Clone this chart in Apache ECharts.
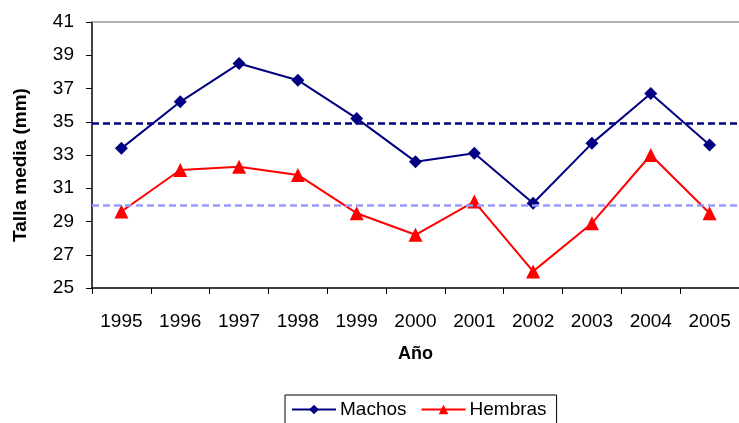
<!DOCTYPE html>
<html>
<head>
<meta charset="utf-8">
<script src="https://cdn.jsdelivr.net/npm/echarts@6/dist/echarts.min.js"></script>
<style>
  html, body { margin: 0; padding: 0; background: #fff; }
  #main { width: 739px; height: 423px; }
</style>
</head>
<body>
<div id="main"></div>
<script>
// datos
const years = ["1995", "1996", "1997", "1998", "1999", "2000", "2001", "2002", "2003", "2004", "2005"];
const machos = [33.4, 36.2, 38.5, 37.5, 35.2, 32.6, 33.1, 30.1, 33.7, 36.7, 33.6];
const hembras = [29.6, 32.1, 32.3, 31.8, 29.5, 28.2, 30.2, 26.0, 28.9, 33.0, 29.5];
// medias (lineas discontinuas)
const mediaMachos = 34.9;
const mediaHembras = 30.0;

const font = "Liberation Sans, Arial, sans-serif";

let myChart = echarts.init(document.getElementById("main"));
let option = {
  animation: false,
  textStyle: { fontFamily: font },
  grid: {
    left: 92,
    top: 22,
    width: 652,
    height: 266
  },
  legend: {
    data: ["Machos", "Hembras"],
    left: 285,
    top: 395,
    borderColor: "#000",
    borderWidth: 1,
    borderRadius: 0,
    padding: [5, 10, 10, 6],
    itemGap: 14,
    itemWidth: 44,
    itemHeight: 12,
    textStyle: { fontSize: 19, color: "#000", fontFamily: font, padding: [0, 0, 0, -1] }
  },
  xAxis: [
    {
      type: "category",
      data: years,
      boundaryGap: true,
      name: "Año",
      nameLocation: "middle",
      nameGap: 57,
      nameTextStyle: { fontSize: 18, fontWeight: "bold", color: "#000" },
      axisLine: { lineStyle: { color: "#000", width: 1.5 } },
      axisTick: { show: true, length: 6, lineStyle: { color: "#000" } },
      axisLabel: { fontSize: 19, color: "#000", margin: 24 }
    },
    {
      type: "category",
      data: years,
      position: "top",
      axisLine: { show: true, lineStyle: { color: "#999", width: 1.5 } },
      axisTick: { show: false },
      axisLabel: { show: false }
    }
  ],
  yAxis: {
    type: "value",
    min: 25,
    max: 41,
    interval: 2,
    name: "Talla media (mm)",
    nameLocation: "middle",
    nameGap: 62,
    nameTextStyle: { fontSize: 19, fontWeight: "bold", color: "#000", padding: [0, 20, 0, 0] },
    axisLine: { show: true, lineStyle: { color: "#000", width: 1.5 } },
    axisTick: { show: true, length: 6, lineStyle: { color: "#000" } },
    axisLabel: { fontSize: 19, color: "#000", margin: 18 },
    splitLine: { show: false }
  },
  series: [
    {
      name: "Machos",
      type: "line",
      data: machos,
      symbol: "diamond",
      symbolSize: 13,
      lineStyle: { color: "#000080", width: 2 },
      itemStyle: { color: "#000080" },
      markLine: {
        silent: true,
        symbol: "none",
        label: { show: false },
        lineStyle: { color: "#000080", type: [7, 4], width: 2.5 },
        data: [{ yAxis: mediaMachos }]
      }
    },
    {
      name: "Hembras",
      type: "line",
      data: hembras,
      symbol: "triangle",
      symbolSize: 14,
      lineStyle: { color: "#ff0000", width: 2 },
      itemStyle: { color: "#ff0000" },
      markLine: {
        silent: true,
        symbol: "none",
        label: { show: false },
        lineStyle: { color: "#9999ff", type: [7, 4], width: 2.5 },
        data: [{ yAxis: mediaHembras }]
      }
    }
  ]
};
myChart.setOption(option);
</script>
</body>
</html>
